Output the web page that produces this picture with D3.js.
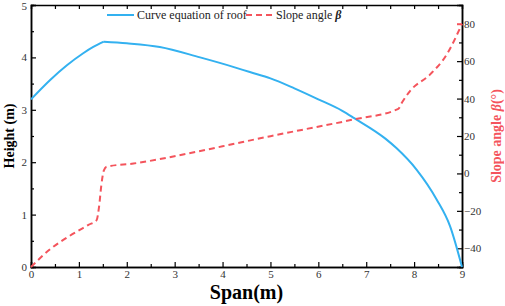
<!DOCTYPE html>
<html lang="en">
<head>
    <meta charset="UTF-8">
    <title>Roof curve and slope angle</title>
    <script src="https://d3js.org/d3.v7.min.js"></script>
    <style>
        body { margin: 0; background: #fff; }
        svg text { font-family: "Liberation Serif", "Times New Roman", serif; }
    </style>
</head>
<body>
    <svg id="chart" width="505" height="306"></svg>
    <script>
        // roof curve (left axis)
        const roofSpan   = [0, 0.4, 0.75, 1.09, 1.3, 1.52, 2, 2.69, 3.53, 4.22, 4.57, 5, 5.5, 6, 6.5, 6.75, 7.4, 7.63, 8.05, 8.47, 8.75, 9];
        const roofHeight = [3.2, 3.57, 3.85, 4.08, 4.2, 4.3, 4.27, 4.2, 4.0, 3.82, 3.72, 3.6, 3.41, 3.2, 2.98, 2.84, 2.45, 2.27, 1.86, 1.29, 0.78, 0];
        const roofPeak = 5;

        // slope angle (right axis)
        const slopeSpan  = [0, 0.4, 0.8, 1.2, 1.37, 1.42, 1.47, 1.52, 1.58, 2.14, 3.25, 4, 5, 5.62, 6.73, 7.67, 7.75, 7.91, 8.33, 8.68, 9];
        const slopeAngle = [-50, -40.5, -33.5, -27.5, -25, -18, -6, 1.5, 3.6, 5.3, 10.5, 14.5, 19.9, 23.1, 28.8, 34.5, 38, 43.9, 52.8, 63.5, 80];

        const xTicks = [0, 1, 2, 3, 4, 5, 6, 7, 8, 9];
        const yLeftTicks = [0, 1, 2, 3, 4, 5];
        const yRightTicks = [-40, -20, 0, 20, 40, 60, 80];

        const blue = "#33b1f0";
        const red = "#f4545c";

        const svg = d3.select("#chart");
        const margin = { top: 5, right: 43, bottom: 39, left: 31 };
        const width = 505 - margin.left - margin.right;
        const height = 306 - margin.top - margin.bottom;

        const g = svg.append("g")
            .attr("transform", `translate(${margin.left},${margin.top})`);

        const x = d3.scaleLinear().domain([0, 9]).range([0, width]);
        const yL = d3.scaleLinear().domain([0, 5]).range([height, 0]);
        const yR = d3.scaleLinear().domain([-50, 90]).range([height, 0]);

        // minor ticks
        g.append("g")
            .attr("transform", `translate(0,${height})`)
            .call(d3.axisBottom(x).tickValues(d3.range(0.5, 9, 1)).tickSize(-3).tickFormat(""));
        g.append("g")
            .call(d3.axisTop(x).tickValues(d3.range(0.5, 9, 0.5)).tickSize(-4).tickFormat(""));
        g.append("g")
            .call(d3.axisLeft(yL).tickValues(d3.range(0.5, 5, 1)).tickSize(-3).tickFormat(""));
        g.append("g")
            .attr("transform", `translate(${width},0)`)
            .call(d3.axisRight(yR).tickValues(d3.range(-50, 90, 20)).tickSize(-3).tickFormat(""));

        // major ticks with labels
        const xAxis = g.append("g")
            .attr("transform", `translate(0,${height})`)
            .call(d3.axisBottom(x).tickValues(xTicks).tickSize(-5).tickPadding(3).tickFormat(d3.format("d")));
        const yAxisL = g.append("g")
            .call(d3.axisLeft(yL).tickValues(yLeftTicks).tickSize(-5).tickPadding(4).tickFormat(d3.format("d")));
        const yAxisR = g.append("g")
            .attr("transform", `translate(${width},0)`)
            .call(d3.axisRight(yR).tickValues(yRightTicks).tickSize(-5).tickPadding(2).tickFormat(d3.format("d")));

        g.selectAll(".domain").attr("stroke", "#000").attr("stroke-width", 1.5);
        g.selectAll(".tick line").attr("stroke", "#000").attr("stroke-width", 1.2);
        g.selectAll(".tick text")
            .style("font-size", "11px")
            .attr("fill", "#333");
        yAxisL.selectAll(".tick text").attr("x", -4);
        yAxisR.selectAll(".tick text").attr("x", 2);
        // the top label sits right at the frame, as in the source
        yAxisL.selectAll(".tick text").filter(d => d === 5).attr("dy", "0.45em");
        // red marker on the right axis at the top of the slope curve
        yAxisR.selectAll(".tick line").filter(d => d === 80).attr("stroke", red).attr("stroke-width", 2);

        // roof curve, drawn as two pieces so the peak keeps its corner
        const roofData = roofSpan.map((s, i) => ({ s, h: roofHeight[i] }));
        const roofLine = d3.line().x(d => x(d.s)).y(d => yL(d.h)).curve(d3.curveMonotoneX);
        [roofData.slice(0, roofPeak + 1), roofData.slice(roofPeak)].forEach(part => {
            g.append("path")
                .datum(part)
                .attr("d", roofLine)
                .attr("fill", "none")
                .attr("stroke", blue)
                .attr("stroke-width", 2);
        });

        // slope angle
        const slopeData = slopeSpan.map((s, i) => ({ s, a: slopeAngle[i] }));
        g.append("path")
            .datum(slopeData)
            .attr("d", d3.line().x(d => x(d.s)).y(d => yR(d.a)).curve(d3.curveMonotoneX))
            .attr("fill", "none")
            .attr("stroke", red)
            .attr("stroke-width", 2)
            .attr("stroke-dasharray", "6,4");

        // legend
        const legend = svg.append("g");
        legend.append("line")
            .attr("x1", 107).attr("x2", 134).attr("y1", 15).attr("y2", 15)
            .attr("stroke", blue).attr("stroke-width", 2);
        legend.append("text")
            .attr("x", 137).attr("y", 19)
            .style("font-size", "12px").attr("fill", "#222")
            .text("Curve equation of roof");
        legend.append("line")
            .attr("x1", 246).attr("x2", 273).attr("y1", 15).attr("y2", 15)
            .attr("stroke", red).attr("stroke-width", 2).attr("stroke-dasharray", "6,4");
        const lt = legend.append("text")
            .attr("x", 276).attr("y", 19)
            .style("font-size", "12px").attr("fill", "#222");
        lt.append("tspan").text("Slope angle ");
        lt.append("tspan").style("font-weight", "bold").style("font-style", "italic").text("β");

        // axis titles
        svg.append("text")
            .attr("x", margin.left + width / 2).attr("y", 299)
            .attr("text-anchor", "middle")
            .style("font-size", "20px").style("font-weight", "bold")
            .text("Span(m)");

        svg.append("text")
            .attr("transform", `translate(14,${margin.top + height / 2}) rotate(-90)`)
            .attr("text-anchor", "middle")
            .style("font-size", "14px").style("font-weight", "bold")
            .text("Height (m)");

        const rt = svg.append("text")
            .attr("transform", `translate(501,${margin.top + height / 2}) rotate(-90)`)
            .attr("text-anchor", "middle")
            .style("font-size", "14px").style("font-weight", "bold")
            .attr("fill", red);
        rt.append("tspan").text("Slope angle ");
        rt.append("tspan").style("font-style", "italic").text("β");
        rt.append("tspan").text("(°)");
    </script>
</body>
</html>
